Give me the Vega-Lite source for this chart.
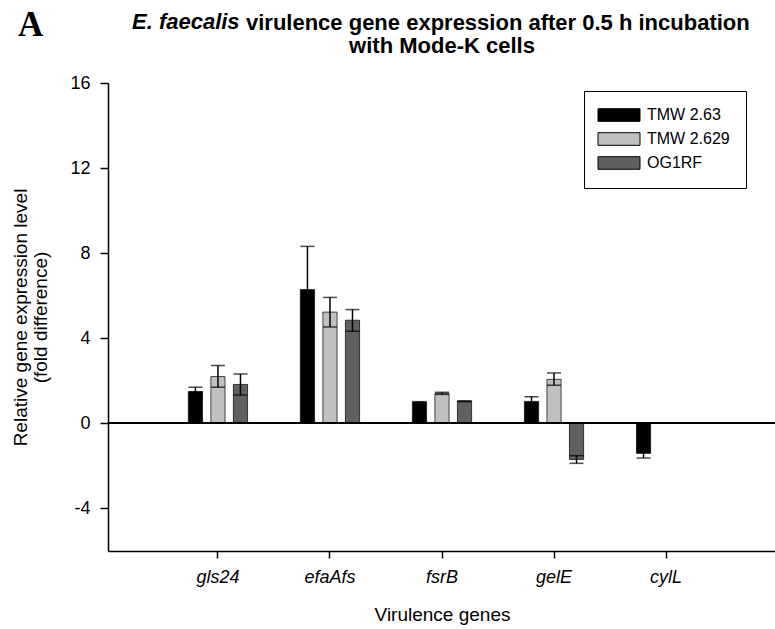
{
  "$schema": "https://vega.github.io/schema/vega-lite/v6.json",
  "background": "white",
  "padding": {"left": 11, "top": 8, "right": 0, "bottom": 5},
  "config": {
    "font": "Liberation Sans",
    "view": {"stroke": null},
    "axis": {"labelFont": "Liberation Sans", "titleFont": "Liberation Sans", "labelColor": "black", "titleColor": "black", "domainColor": "black", "tickColor": "black", "titleFontWeight": "normal"},
    "concat": {"spacing": 0}
  },
  "title": {"text": "A", "font": "Liberation Serif", "fontSize": 35, "fontWeight": "bold", "anchor": "start", "frame": "bounds", "dx": 6, "dy": 32, "color": "black", "offset": 0},
  "vconcat": [
    {
      "title": {"text": "E. faecalis", "font": "Liberation Sans", "fontSize": 22, "fontWeight": "bold", "fontStyle": "italic", "anchor": "start", "frame": "bounds", "dx": 120, "dy": 22, "color": "black", "offset": 0},
      "vconcat": [
        {
          "title": {"text": "virulence gene expression after 0.5 h incubation", "font": "Liberation Sans", "fontSize": 22, "fontWeight": "bold", "anchor": "start", "frame": "bounds", "dx": 234, "color": "black", "offset": 0},
          "vconcat": [
            {
              "width": 668,
              "height": 468,
              "title": {"text": "with Mode-K cells", "font": "Liberation Sans", "fontSize": 22, "fontWeight": "bold", "anchor": "middle", "frame": "group", "color": "black", "offset": 16},
              "data": {"values": [
                {"gene": "gls24", "strain": "TMW 2.63", "value": 1.5, "lo": 1.3, "hi": 1.7},
                {"gene": "gls24", "strain": "TMW 2.629", "value": 2.2, "lo": 1.7, "hi": 2.72},
                {"gene": "gls24", "strain": "OG1RF", "value": 1.83, "lo": 1.33, "hi": 2.32},
                {"gene": "efaAfs", "strain": "TMW 2.63", "value": 6.29, "lo": 4.27, "hi": 8.32},
                {"gene": "efaAfs", "strain": "TMW 2.629", "value": 5.23, "lo": 4.53, "hi": 5.92},
                {"gene": "efaAfs", "strain": "OG1RF", "value": 4.85, "lo": 4.33, "hi": 5.35},
                {"gene": "fsrB", "strain": "TMW 2.63", "value": 1.0, "lo": 0.98, "hi": 1.02},
                {"gene": "fsrB", "strain": "TMW 2.629", "value": 1.41, "lo": 1.36, "hi": 1.46},
                {"gene": "fsrB", "strain": "OG1RF", "value": 1.04, "lo": 1.02, "hi": 1.06},
                {"gene": "gelE", "strain": "TMW 2.63", "value": 1.03, "lo": 0.82, "hi": 1.25},
                {"gene": "gelE", "strain": "TMW 2.629", "value": 2.07, "lo": 1.79, "hi": 2.37},
                {"gene": "gelE", "strain": "OG1RF", "value": -1.7, "lo": -1.88, "hi": -1.52},
                {"gene": "cylL", "strain": "TMW 2.63", "value": -1.41, "lo": -1.63, "hi": -1.19}
              ]},
              "encoding": {
                "x": {"field": "gene", "type": "nominal", "sort": ["gls24", "efaAfs", "fsrB", "gelE", "cylL"],
                      "scale": {"paddingInner": 0.397, "paddingOuter": 0.68},
                      "axis": {"title": "Virulence genes", "titleFontSize": 19, "titlePadding": 19, "labelAngle": 0, "labelFontSize": 18, "labelFontStyle": "italic", "labelPadding": 10, "tickSize": 7, "domainWidth": 1.5, "tickWidth": 1.5}},
                "xOffset": {"field": "strain", "type": "nominal", "sort": ["TMW 2.63", "TMW 2.629", "OG1RF"], "scale": {"paddingInner": 0.37, "paddingOuter": 0.185}}
              },
              "layer": [
                {
                  "mark": {"type": "bar", "stroke": "black", "strokeWidth": 0.7},
                  "encoding": {
                    "y": {"field": "value", "type": "quantitative", "scale": {"domain": [-6, 16], "nice": false, "zero": false},
                          "axis": {"values": [-4, 0, 4, 8, 12, 16], "labelExpr": "'' + datum.value", "grid": false, "title": ["Relative gene expression level", "(fold difference)"], "titleFontSize": 19, "titlePadding": 19, "labelFontSize": 18, "labelPadding": 10, "tickSize": 8, "domainWidth": 1.5, "tickWidth": 1.5, "titleLineHeight": 20}},
                    "color": {"field": "strain", "type": "nominal", "sort": ["TMW 2.63", "TMW 2.629", "OG1RF"],
                              "scale": {"domain": ["TMW 2.63", "TMW 2.629", "OG1RF"], "range": ["#000000", "#c0c0c0", "#606060"]},
                              "legend": {"title": null, "orient": "none", "legendX": 476, "legendY": 8, "direction": "vertical",
                                         "symbolType": "M-3,-0.9H3V0.9H-3Z", "symbolSize": 196, "symbolStrokeColor": "black", "symbolStrokeWidth": 1,
                                         "symbolOffset": 11, "labelFontSize": 16, "labelColor": "black", "labelOffset": 20, "rowPadding": 6,
                                         "strokeColor": "black", "fillColor": "white", "padding": 16, "symbolOpacity": 1}}
                  }
                },
                {
                  "mark": {"type": "rule", "color": "black", "strokeWidth": 1.5},
                  "encoding": {"y": {"field": "lo", "type": "quantitative"}, "y2": {"field": "hi"}}
                },
                {
                  "mark": {"type": "tick", "color": "black", "thickness": 1.5, "size": 14, "orient": "horizontal"},
                  "encoding": {"y": {"field": "lo", "type": "quantitative"}}
                },
                {
                  "mark": {"type": "tick", "color": "black", "thickness": 1.5, "size": 14, "orient": "horizontal"},
                  "encoding": {"y": {"field": "hi", "type": "quantitative"}}
                },
                {
                  "mark": {"type": "rule", "color": "black", "strokeWidth": 1.5},
                  "encoding": {"y": {"datum": 0}, "xOffset": null, "x": null}
                }
              ]
            }
          ]
        }
      ]
    }
  ]
}
